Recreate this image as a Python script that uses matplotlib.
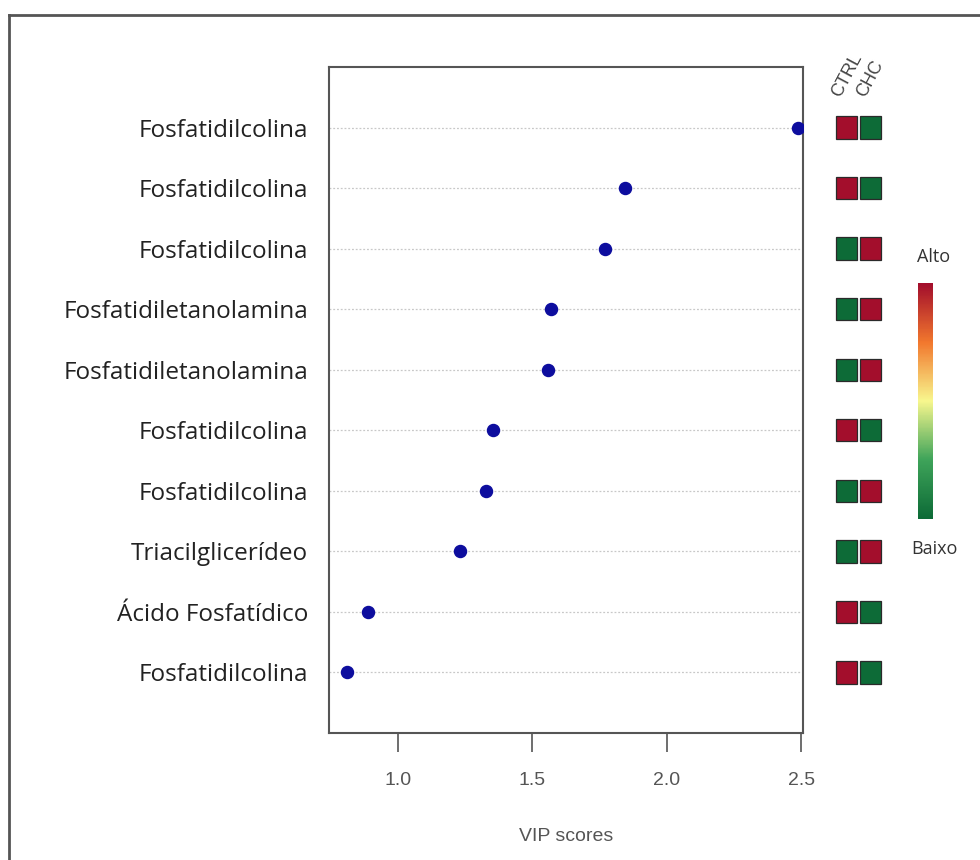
import matplotlib.pyplot as plt
import numpy as np
from matplotlib.colors import LinearSegmentedColormap
from matplotlib.patches import Rectangle
from matplotlib.lines import Line2D

# top to bottom
labels = ['Fosfatidilcolina', 'Fosfatidilcolina', 'Fosfatidilcolina',
          'Fosfatidiletanolamina', 'Fosfatidiletanolamina', 'Fosfatidilcolina',
          'Fosfatidilcolina', 'Triacilglicerídeo', 'Ácido Fosfatídico',
          'Fosfatidilcolina']
vip = [2.49, 1.845, 1.77, 1.57, 1.558, 1.353, 1.326, 1.23, 0.888, 0.81]
# 1 = alto, 0 = baixo
ctrl = [1, 1, 0, 0, 0, 1, 0, 0, 1, 1]
chc = [0, 0, 1, 1, 1, 0, 1, 1, 0, 0]
groups = ['CTRL', 'CHC']
xticks = [1.0, 1.5, 2.0, 2.5]

cmap = LinearSegmentedColormap.from_list(
    'hm', ['#0d6b37', '#3fa45a', '#f8f78e', '#f2782e', '#a30e2c'])

fig = plt.figure(figsize=(9.8, 8.6), dpi=100)
W, H = 980, 860

def pos(x0, y0, x1, y1):
    return [x0 / W, 1 - y1 / H, (x1 - x0) / W, (y1 - y0) / H]

# outer frame
fig.add_artist(Line2D([9 / W, 1], [1 - 15 / H] * 2, color='#555555', lw=2))
fig.add_artist(Line2D([9 / W] * 2, [0, 1 - 15 / H], color='#555555', lw=2))

n = len(labels)
ypos = np.arange(n, 0, -1)

ax = fig.add_axes(pos(329, 67, 803, 733))
for y in ypos:
    ax.axhline(y, color='#c8c8c8', lw=0.9, ls=(0, (1.5, 1.5)), zorder=1)
ax.scatter(vip, ypos, s=75, color='#0d0d9e', zorder=3)
ax.set_xlim(0.743, 2.507)
ax.set_ylim(0, n + 1)
ax.set_yticks(ypos)
ax.set_yticklabels(labels, fontsize=17.5, family=['Open Sans', 'DejaVu Sans'],
                   color='#222222')
ax.set_xticks(xticks)
ax.set_xticklabels([f'{t:.1f}' for t in xticks], fontsize=14, color='#555555',
                   family='Liberation Sans')
ax.tick_params(axis='y', length=0, pad=15)
ax.tick_params(axis='x', length=14, width=1.2, color='#555555', pad=14)
ax.set_xlabel('VIP scores', fontsize=14, color='#555555', family='Liberation Sans',
              labelpad=28)
for s in ax.spines.values():
    s.set_color('#555555')
    s.set_linewidth(1.5)

# heatmap squares
hx = fig.add_axes(pos(835, 67, 883, 733))
hx.set_xlim(0, 2)
hx.set_ylim(0, n + 1)
hx.axis('off')
sq = 0.37
for i, y in enumerate(ypos):
    for j, v in enumerate([ctrl[i], chc[i]]):
        hx.add_patch(Rectangle((j + 0.05, y - sq / 2), 0.88, sq,
                               facecolor=cmap(float(v)), edgecolor='#2a2a2a', lw=0.9))
for j, g in enumerate(groups):
    fig.text((838 + 25 * j + 6) / W, 1 - 100 / H, g, rotation=62, fontsize=13,
             color='#444444', ha='left', va='bottom', family='Liberation Sans',
             rotation_mode='anchor')

# colour key
cx = fig.add_axes(pos(918, 283, 933, 519))
cx.imshow(np.linspace(1, 0, 200).reshape(-1, 1), aspect='auto', cmap=cmap)
cx.set_xticks([])
cx.set_yticks([])
for s in cx.spines.values():
    s.set_visible(False)
fig.text(934 / W, 1 - 257 / H, 'Alto', ha='center', va='center', fontsize=13,
         color='#333333', family='Open Sans')
fig.text(934 / W, 1 - 549 / H, 'Baixo', ha='center', va='center', fontsize=13,
         color='#333333', family='Open Sans')

fig.savefig('out.png', dpi=100, facecolor='white')
